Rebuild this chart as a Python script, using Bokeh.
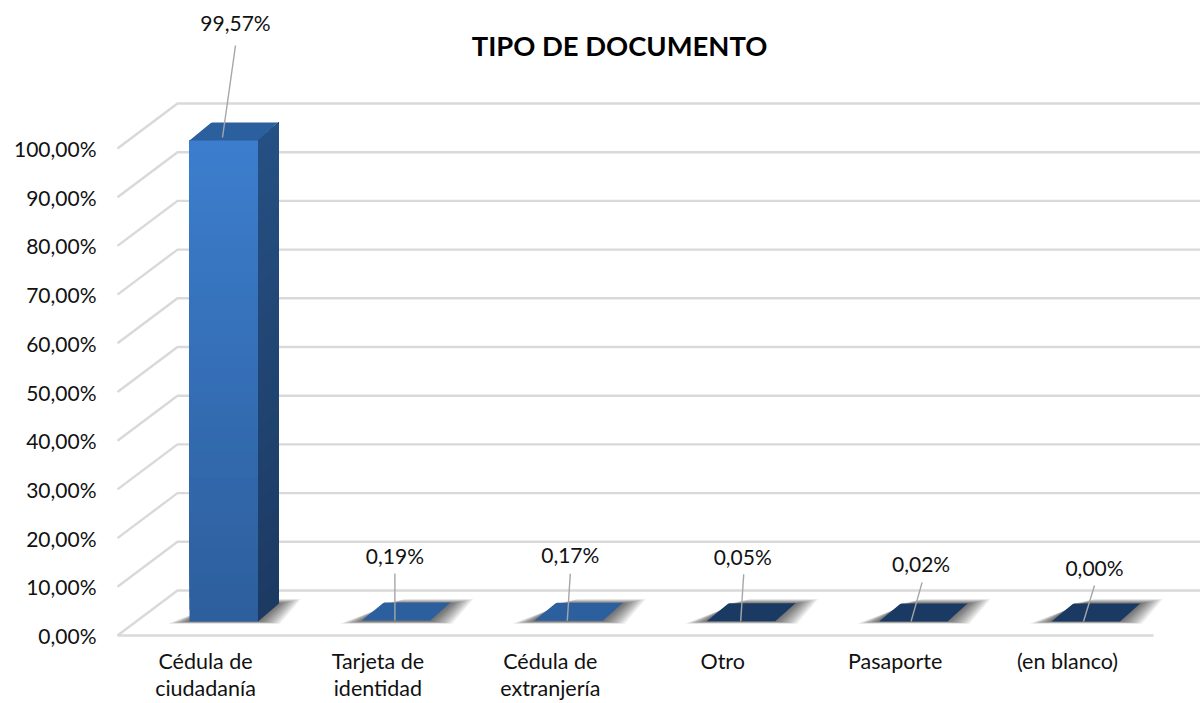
from bokeh.plotting import figure
from bokeh.embed import file_html
from bokeh.resources import INLINE
from bokeh.models import FixedTicker
from bokeh.core.properties import value

categories = ["Cédula de\nciudadanía", "Tarjeta de\nidentidad", "Cédula de\nextranjería", "Otro", "Pasaporte", "(en blanco)"]
values = [99.57, 0.19, 0.17, 0.05, 0.02, 0.00]
value_labels = ["99,57%", "0,19%", "0,17%", "0,05%", "0,02%", "0,00%"]
y_ticks = [0, 10, 20, 30, 40, 50, 60, 70, 80, 90, 100]
y_tick_labels = ["0,00%", "10,00%", "20,00%", "30,00%", "40,00%", "50,00%", "60,00%", "70,00%", "80,00%", "90,00%", "100,00%"]
title = "TIPO DE DOCUMENTO"

FONT = "Lato"
PXX = 172.4          # px per category
PXY = 4.87           # px per percent
W, H = 1200, 703
LEFT, BOTTOM = 112, 64

def dx(px): return px / PXX
def dy(px): return px / PXY

x_start = -(205 - LEFT) / PXX
x_end = x_start + (W - LEFT) / PXX
y_start = -(H - BOTTOM - 635) / PXY
y_end = y_start + (H - BOTTOM) / PXY

p = figure(width=W, height=H, x_range=(x_start, x_end), y_range=(y_start, y_end),
           output_backend="svg", toolbar_location=None,
           min_border_left=LEFT, min_border_bottom=BOTTOM, min_border_top=0, min_border_right=0,
           frame_width=W - LEFT, frame_height=H - BOTTOM)
p.outline_line_color = None
p.background_fill_color = "white"
p.grid.visible = False

# 3D walls / gridlines
wall_l = -dx(88)      # front plane left edge, relative to category 0
depth_x, depth_y = dx(60), dy(45)
wall_r = x_end + 0.2
xs, ys = [], []
for t in y_ticks:
    xs.append([wall_l, wall_l + depth_x, wall_r])
    ys.append([t, t + depth_y, t + depth_y])
xs.append([wall_l, dx(1153 - 205)])
ys.append([0, 0])
p.multi_line(xs, ys, line_color="#D9D9D9", line_width=2.4)

# bars
bar_l, bar_w = dx(189 - 205), dx(68.5)
off_y = dy(14)
side_x, side_y = dx(21), dy(18)
BAR_SCALE = 0.992
GRAD_TOP, GRAD_BOT = (60, 126, 206), (45, 94, 156)
SIDE_TOP, SIDE_BOT = (37, 80, 131), (28, 58, 98)
top_colors = ["#2B5F9E", "#2B5F9E", "#2B5F9E", "#1B3A63", "#1B3A63", "#1B3A63"]

def mix(a, b, t):
    return "#%02x%02x%02x" % tuple(round(a[k] + (b[k] - a[k]) * t) for k in range(3))

for i, v in enumerate(values):
    x0 = i + bar_l
    x1 = x0 + bar_w
    y0 = off_y
    y1 = off_y + v * BAR_SCALE
    # soft floor shadow
    for k in range(12):
        g = dx(22 - k * 1.85)
        up = dy(4.5 - k * 0.38)
        down = dy(2.2 - k * 0.19)
        p.patch([x0 - g, x1 + g, x1 + side_x + g, x0 + side_x + g],
                [y0 - down, y0 - down, y0 + side_y + up, y0 + side_y + up],
                fill_color="black", fill_alpha=0.06, line_color=None)
    # front and side, shaded by slices that overlap upward
    n = 40 if v > 1 else 0
    for k in range(n):
        a = y0 + (y1 - y0) * k / n
        t = (k + 0.5) / n
        p.quad(left=x0, right=x1, bottom=a, top=y1, fill_color=mix(GRAD_BOT, GRAD_TOP, t), line_color=None)
        p.patch([x1, x1 + side_x, x1 + side_x, x1],
                [a, a + side_y, y1 + side_y, y1],
                fill_color=mix(SIDE_BOT, SIDE_TOP, t), line_color=None)
    # top face
    c = dx(1.6)
    p.patch([x0, x1, x1 + side_x - c, x1 + side_x, x0 + side_x + c, x0 + side_x],
            [y1, y1, y1 + side_y - dy(0.7), y1 + side_y, y1 + side_y, y1 + side_y - dy(0.7)],
            fill_color=top_colors[i], line_color=None)

# leader lines and value labels (px offsets from the category centre and the bar's top)
lead_start_dx = [17, 17, 17, 18, 16, 16]
lead_start_dy = [3, 0, 0, 0, 0, 0]
lead_end_dx = [30, 17, 20, 21, 27, 27]
lead_end_dy = [95, 47, 47, 47, 39, 36]
lab_dx = [30, 17, 20, 20, 26, 27]
lab_dy = [118, 65, 66, 65, 58, 54]
for i, v in enumerate(values):
    yb = off_y + v * BAR_SCALE
    p.line([i + dx(lead_start_dx[i]), i + dx(lead_end_dx[i])],
           [yb + dy(lead_start_dy[i]), yb + dy(lead_end_dy[i])],
           line_color="#A6A6A6", line_width=1.4)
    p.text([i + dx(lab_dx[i])], [yb + dy(lab_dy[i])], text=[value_labels[i]],
           text_font=value(FONT), text_font_size="21px", text_color="#111111",
           text_align="center", text_baseline="middle")

# axes
p.yaxis.ticker = FixedTicker(ticks=y_ticks)
p.yaxis.major_label_overrides = {t: s for t, s in zip(y_ticks, y_tick_labels)}
p.yaxis.axis_line_color = None
p.yaxis.major_tick_line_color = None
p.yaxis.minor_tick_line_color = None
p.yaxis.major_label_text_font = FONT
p.yaxis.major_label_text_font_size = "21px"
p.yaxis.major_label_text_color = "#111111"
p.yaxis.major_label_standoff = 10

idx = list(range(len(categories)))
p.xaxis.ticker = FixedTicker(ticks=idx)
p.xaxis.major_label_overrides = {i: s for i, s in zip(idx, categories)}
p.xaxis.axis_line_color = None
p.xaxis.major_tick_line_color = None
p.xaxis.minor_tick_line_color = None
p.xaxis.major_label_text_font = FONT
p.xaxis.major_label_text_font_size = "21.5px"
p.xaxis.major_label_text_color = "#111111"
p.xaxis.major_label_text_line_height = 1.05
p.xaxis.major_label_standoff = 2

p.text([dx(619 - 205)], [dy(635 - 44.5)], text=[title], text_font=value(FONT), text_font_size="27.4px",
       text_font_style="bold", text_color="black", text_align="center", text_baseline="middle")

open("out.html", "w").write(file_html(p, INLINE))
